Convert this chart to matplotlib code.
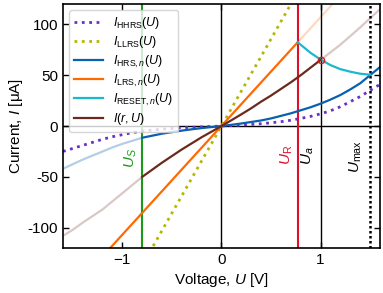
import numpy as np
import matplotlib
matplotlib.use('Agg')
import matplotlib.pyplot as plt

plt.rcParams['font.family'] = ['Liberation Sans', 'DejaVu Sans']
plt.rcParams['mathtext.fontset'] = 'custom'
plt.rcParams['mathtext.rm'] = 'Liberation Sans'
plt.rcParams['mathtext.it'] = 'Liberation Sans:italic'
plt.rcParams['mathtext.bf'] = 'Liberation Sans:bold'

# 数据
U = np.round(np.arange(-16, 17) / 10, 1)
I_hrs = [-42, -37.5, -33, -29, -25, -21, -17.5, -14.5, -11.5, -9.5, -7.5, -6, -4.5, -3.2, -2, -1,
         0, 1.2, 2.5, 4, 5.5, 7.5, 10, 12.5, 15.5, 18.5, 22, 26, 30.5, 36, 42, 50, 58]
I_hhrs = [-25, -22, -19, -16, -13, -10.5, -8.5, -6.5, -5, -4, -3, -2.3, -1.7, -1.2, -0.8, -0.4,
          0, 0.5, 1, 1.6, 2.3, 3.2, 4.3, 5.7, 7.5, 9.5, 12, 15, 19, 24, 29, 35, 41]
I_r = [-108, -102, -95, -88.5, -82, -74, -66, -58, -50, -43, -36, -29.5, -23, -17, -11, -5.5,
       0, 5.7, 11.5, 17.5, 24, 30, 36.5, 43, 50, 57.5, 65, 72.5, 80, 88.5, 97, 106, 115]

U_llrs = [-0.8, 0.0, 0.8]
I_llrs = [-137, 0, 137]

U_lrs = [-1.6, 0.77, 1.6]
I_lrs = [-171, 82.5, 171]

U_reset = [0.77, 0.8, 0.9, 1.0, 1.1, 1.2, 1.3, 1.4, 1.5]
I_reset = [82.5, 80, 72, 65.5, 60, 56, 53.5, 51.5, 50.5]

U_S, U_R, U_a, U_max = -0.8, 0.77, 1.0, 1.5
I_a = 65

c_purple = '#6a2fc8'
c_olive = '#b4b800'
c_blue = '#0a5fae'
c_orange = '#ff6a00'
c_cyan = '#1ab8cc'
c_brown = '#6b2a1e'

fig = plt.figure(figsize=(3.83, 2.93), dpi=100)
ax = fig.add_axes([0.1645, 0.1536, 0.8275, 0.8324])

U = np.array(U)
I_hrs = np.array(I_hrs)
I_r = np.array(I_r)

# 淡色延长线
m = U <= U_S
ax.plot(U[m], I_hrs[m], color=c_blue, lw=1.6, alpha=0.3)
ax.plot(U[m], I_r[m], color=c_brown, lw=1.6, alpha=0.25)
m = U >= U_a
ax.plot(U[m], I_r[m], color=c_brown, lw=1.6, alpha=0.25)
ax.plot(U_lrs[1:], I_lrs[1:], color=c_orange, lw=1.6, alpha=0.25)

# 坐标轴线
ax.axhline(0, color='black', lw=1)
ax.axvline(0, color='black', lw=1)
ax.axvline(U_S, color='#1a9a1a', lw=1.5)
ax.axvline(U_R, color='#e0102a', lw=1.5)
ax.axvline(U_a, color='black', lw=1)
ax.axvline(U_max, color='black', lw=1.8, linestyle=(0, (1, 1)))

# 曲线
ax.plot(U, I_hhrs, color=c_purple, lw=2, linestyle=':', label=r'$I_\mathrm{HHRS}(U)$')
ax.plot(U_llrs, I_llrs, color=c_olive, lw=2, linestyle=':', label=r'$I_\mathrm{LLRS}(U)$')
m = U >= U_S
ax.plot(U[m], I_hrs[m], color=c_blue, lw=1.6, label=r'$I_{\mathrm{HRS},n}(U)$')
ax.plot(U_lrs[:2], I_lrs[:2], color=c_orange, lw=1.6, label=r'$I_{\mathrm{LRS},n}(U)$')
ax.plot(U_reset, I_reset, color=c_cyan, lw=1.6, label=r'$I_{\mathrm{RESET},n}(U)$')
m = (U >= U_S) & (U <= U_a)
ax.plot(U[m], I_r[m], color=c_brown, lw=1.6, label=r'$I(r,U)$')
ax.plot([U_a], [I_a], marker='o', ms=4.5, mfc='none', mec='#d02020', mew=1)

# 标注
ax.text(U_S - 0.03, -31, r'$U_S$', color='#1a9a1a', rotation=90, ha='right', va='center', fontsize=11)
ax.text(U_R - 0.03, -28, r'$U_\mathrm{R}$', color='#e0102a', rotation=90, ha='right', va='center', fontsize=11)
ax.text(U_a - 0.05, -29, r'$U_a$', color='black', rotation=90, ha='right', va='center', fontsize=11)
ax.text(U_max - 0.06, -30, r'$U_\mathrm{max}$', color='black', rotation=90, ha='right', va='center', fontsize=11)

ax.set_xlim(-1.6, 1.6)
ax.set_ylim(-120, 120)
ax.set_xticks([-1, 0, 1])
ax.set_xticklabels(['\u22121', '0', '1'])
ax.set_yticks([-100, -50, 0, 50, 100])
ax.set_yticklabels(['-100', '-50', '0', '50', '100'])
ax.tick_params(direction='in', top=True, right=True, labelsize=11, length=4, width=1)
for s in ax.spines.values():
    s.set_linewidth(1.2)

ax.set_xlabel(r'Voltage, $U$ [V]', fontsize=11, labelpad=3)
ax.set_ylabel(r'Current, $I$ [μA]', fontsize=11, labelpad=2)

ax.legend(loc='upper left', fontsize=9, labelspacing=0.25, handlelength=2.3,
          borderpad=0.4, handletextpad=0.8, bbox_to_anchor=(0.0, 1.0))

fig.savefig('out.png', dpi=100)
